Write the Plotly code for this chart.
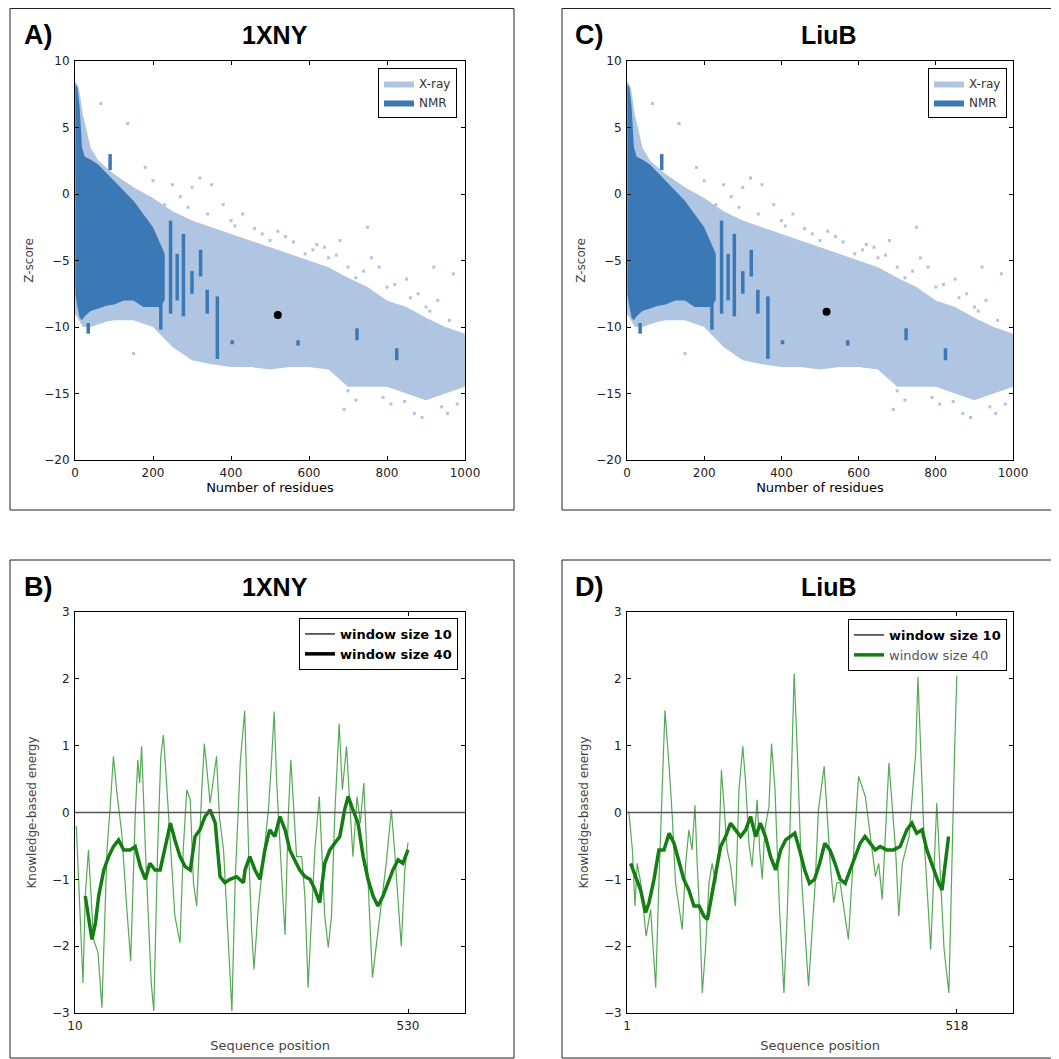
import plotly.graph_objects as go

# the page adds an 8px body margin, so the figure is 8px smaller and every
# pixel position below is measured on the 1059px reference, then shifted
OFF = 8
W = 1059 - OFF
H = 1059 - OFF

# ---- Z-score panels (A, C): envelopes of the X-ray / NMR clouds
xray_n = [0, 10, 20, 40, 60, 80, 100, 150, 200, 250, 300, 350, 400, 450, 500,
          550, 600, 650, 700, 750, 800, 850, 900, 950, 1000]
xray_hi = [8.5, 8.0, 6.0, 3.5, 2.5, 2.0, 1.5, 0.5, -0.3, -1.3, -2.0, -2.5, -3.0, -3.5, -4.0,
           -4.5, -5.0, -5.5, -6.3, -7.0, -8.0, -8.5, -9.3, -10.0, -10.5]
xray_lo = [-9.0, -9.5, -10.0, -10.0, -9.8, -9.6, -9.5, -9.5, -10.0, -11.5, -12.5, -12.8, -13.0, -13.0, -13.2,
           -13.0, -13.0, -13.2, -14.5, -14.5, -14.5, -15.0, -15.5, -15.0, -14.5]

nmr_n = [1, 6, 12, 18, 25, 40, 60, 80, 100, 125, 150, 175, 200, 215, 230]
nmr_hi = [8.3, 8.0, 6.5, 3.5, 2.8, 2.6, 2.2, 1.6, 1.0, 0.3, -0.5, -1.5, -2.5, -3.5, -4.5]
nmr_lo = [-7.5, -8.5, -9.3, -9.5, -9.2, -8.8, -8.6, -8.4, -8.3, -8.0, -8.0, -8.5, -8.5, -8.5, -8.0]

# isolated NMR columns
stripe_n = [34, 90, 220, 245, 262, 278, 300, 322, 339, 365, 403, 572, 723, 825]
stripe_lo = [-10.5, 1.8, -10.2, -9.0, -8.0, -9.2, -7.5, -6.2, -9.0, -12.4, -11.3, -11.4, -11.0, -12.5]
stripe_hi = [-9.7, 3.0, -5.0, -2.0, -4.5, -3.0, -5.8, -4.2, -7.2, -7.7, -11.0, -11.0, -10.1, -11.6]

# sparse X-ray points outside the dense cloud
out_n = [135, 66, 180, 250, 270, 300, 320, 350, 340, 380, 400, 430, 460, 500, 520, 560, 590,
         620, 650, 680, 700, 720, 750, 760, 780, 800, 850, 880, 900, 920, 930, 970, 150, 380,
         690, 720, 790, 870, 940, 980, 985, 200, 230, 290, 410, 480, 540, 610, 640, 670, 740,
         820, 860, 910, 960, 700, 810, 845, 890, 955]
out_z = [5.3, 6.8, 2.0, 0.7, -0.2, 0.5, 1.2, 0.7, -1.5, -0.8, -2.0, -1.5, -2.6, -3.5, -2.8, -3.6, -4.5,
         -3.8, -4.8, -3.5, -5.5, -6.3, -2.5, -4.8, -5.5, -7.0, -6.4, -7.5, -8.5, -5.5, -8.0, -6.0, -12.0, -11.5,
         -16.2, -15.5, -15.3, -16.5, -16.0, -15.8, -13.0, 1.0, -0.8, -1.0, -2.4, -3.0, -3.2, -4.2, -4.0,
         -4.6, -5.8, -6.8, -7.8, -8.8, -9.5, -14.8, -15.8, -15.6, -16.8, -16.5]

target_a = (520, -9.1)   # 1XNY
target_c = (517, -8.85)  # LiuB

# ---- energy profiles (B: 1XNY, D: LiuB)
b10_x = [12, 18, 22.5, 26, 31, 39, 46, 52, 60, 65, 70, 75.5, 83, 91, 97, 104, 108, 111, 114, 120, 125,
         129, 133, 139, 144, 148, 153, 159, 166, 174, 179, 184.5, 190, 195, 200, 208, 212, 217, 221,
         231, 235.5, 242, 249.5, 255, 260, 268, 275, 281, 286, 289.5, 296, 304, 312, 317, 321, 325,
         330, 335, 338, 343, 347, 351, 356, 364, 369, 374, 379.5, 384.5, 391.5, 395, 400, 405.5,
         410.5, 415.5, 422.5, 427.5, 434, 439, 444, 450.5, 455.5, 461, 465, 470, 474.5, 480.5, 486,
         496, 504, 509, 514.5, 519.5, 525, 530]
b10_y = [-0.2, -1.55, -2.55, -1.25, -0.56, -1.9, -2.1, -2.92, -0.56, 0.09, 0.84, 0.29, -0.31, -1.45,
         -2.22, -0.06, 0.79, 0.44, 0.99, -0.56, -1.75, -2.55, -2.97, -0.56, 0.84, 1.16, 0.44, -0.46,
         -1.55, -1.95, -0.56, 0.34, 0.19, -1.05, -1.4, 0.34, 1.03, 0.54, 0.14, 0.84, -0.06, -0.56,
         -2.05, -2.97, -1.05, 0.74, 1.52, -0.56, -1.8, -2.35, -1.45, -0.66, 0.04, 0.79, 1.51, 0.44,
         -0.56, -1.35, -1.83, -0.06, 0.79, 0.19, -0.66, -0.66, -1.25, -2.62, -1.45, -0.56, 0.24, -0.56,
         -1.55, -2.02, -1.55, -0.06, 1.33, 0.34, 0.99, 0.14, -0.66, 0.24, -0.16, 0.44, -0.56, -1.55,
         -2.47, -1.95, -1.55, -0.76, 0.04, -0.56, -1.35, -2.0, -0.86, -0.45]
b40_x = [26, 31, 36.5, 42, 47, 55, 62.5, 70, 78, 86, 96, 104, 112, 120, 127, 135, 143, 151, 159, 166,
         174, 182, 190, 197.5, 205, 213, 221, 229, 236.5, 244, 252, 262.5, 273, 275.5, 283, 291, 299,
         306.5, 314, 322, 330, 338, 345.5, 353, 361, 369, 377, 384.5, 392, 400, 408, 415.5, 423.5,
         431, 436.5, 444, 452, 460, 467.5, 475.5, 483, 491, 499, 506.5, 514.5, 522, 530]
b40_y = [-1.25, -1.55, -1.9, -1.65, -1.25, -0.86, -0.66, -0.51, -0.41, -0.56, -0.56, -0.51, -0.81, -1.0,
         -0.76, -0.86, -0.86, -0.51, -0.16, -0.41, -0.66, -0.81, -0.86, -0.36, -0.26, -0.06, 0.04, -0.16,
         -0.96, -1.05, -1.0, -0.96, -1.05, -0.86, -0.66, -0.86, -1.0, -0.56, -0.26, -0.36, -0.06, -0.26,
         -0.56, -0.71, -0.86, -0.96, -1.0, -1.15, -1.35, -0.76, -0.56, -0.46, -0.36, 0.04, 0.24, 0.04,
         -0.16, -0.66, -1.0, -1.25, -1.4, -1.25, -1.05, -0.86, -0.71, -0.76, -0.56]

d10_x = [4, 9.5, 13.5, 17, 22.5, 27.5, 31, 38, 46, 51, 56.5, 60.5, 67, 72, 77, 82.5, 87.5, 93, 98, 103,
         107.5, 111, 115, 119, 124, 129.5, 134.5, 140, 145, 149, 153, 158, 163.5, 171, 176.5, 182.5,
         187, 192, 197, 201.5, 205, 209, 213, 217, 223.5, 227.5, 233, 236.5, 240, 244, 247, 252, 257,
         263, 268, 275, 285.5, 296, 301, 310, 319.5, 325, 330, 335, 348, 359, 364, 374.5, 385, 390.5,
         395.5, 401, 411.5, 422, 427, 432.5, 443, 453.5, 457, 466.5, 477, 486.5, 498, 505.5, 514.5, 518]
d10_y = [0.0, -0.56, -1.4, -0.76, -1.05, -1.55, -1.85, -1.45, -2.62, -1.05, 0.44, 1.53, 0.69, -0.06,
         -1.05, -1.45, -1.75, -0.76, -0.26, -0.56, 0.11, -0.76, -1.55, -2.7, -2.05, -1.05, -0.76, -1.05,
         -0.56, 0.64, 0.04, -0.56, -0.81, -1.4, 0.34, 0.99, 0.44, -0.46, -0.81, -0.26, 0.19, -0.56, -1.0,
         -0.26, 0.09, 1.03, 0.34, -0.56, -1.45, -2.15, -2.7, -1.55, -0.06, 2.08, 0.9, -1.05, -2.6, -1.05,
         0.04, 0.69, -0.76, -1.35, -1.05, -1.05, -1.9, -0.16, 0.54, 0.24, -0.56, -0.96, -0.76, -1.3, 0.74,
         -0.56, -1.55, -0.76, -0.36, 0.89, 2.03, -0.36, -2.05, 0.14, -2.05, -2.7, 0.94, 2.05]
d40_x = [6.7, 14.6, 22.4, 30, 35.5, 43.3, 51, 59, 67, 74.6, 82.5, 90, 98, 106, 114, 121.6, 127, 132,
         140, 147.7, 155.6, 163.4, 171, 179, 187, 194.7, 202.6, 210, 218, 226, 234, 242, 249.6, 257,
         264, 271.5, 279.5, 287, 295, 303, 311, 319, 327, 335, 343, 350.7, 358.6, 366.5, 374, 382,
         390, 397.8, 408, 418.8, 429, 439.6, 447.5, 455, 463.5, 471, 481.6, 489.6, 494.8, 500, 505]
d40_y = [-0.76, -0.96, -1.16, -1.5, -1.35, -1.0, -0.56, -0.56, -0.31, -0.46, -0.76, -1.0, -1.16, -1.4,
         -1.4, -1.55, -1.6, -1.35, -0.96, -0.51, -0.36, -0.16, -0.26, -0.36, -0.26, -0.06, -0.36, -0.16,
         -0.36, -0.66, -0.86, -0.56, -0.41, -0.36, -0.31, -0.56, -0.86, -1.06, -1.0, -0.76, -0.46, -0.56,
         -0.76, -1.0, -1.06, -0.86, -0.66, -0.46, -0.36, -0.46, -0.56, -0.51, -0.56, -0.56, -0.51, -0.26,
         -0.16, -0.31, -0.26, -0.56, -0.86, -1.06, -1.16, -0.76, -0.36]

LIGHT = "rgb(176,197,226)"
DARK = "rgb(58,121,182)"
THIN = "rgba(30,140,30,0.75)"
THICK = "rgb(20,125,20)"


def px(v):
    return (v - OFF) / W


def py(v):
    return 1 - (v - OFF) / H


fig = go.Figure()


def zscore_panel(xa, ya, leg, target):
    fig.add_trace(go.Scatter(x=xray_n + xray_n[::-1], y=xray_hi + xray_lo[::-1], fill="toself",
                             fillcolor=LIGHT, line=dict(width=0), mode="lines", name="X-ray",
                             xaxis=xa, yaxis=ya, legend=leg, showlegend=True))
    fig.add_trace(go.Scatter(x=out_n, y=out_z, mode="markers",
                             marker=dict(symbol="square", size=3, color=LIGHT),
                             xaxis=xa, yaxis=ya, showlegend=False))
    fig.add_trace(go.Scatter(x=nmr_n + nmr_n[::-1], y=nmr_hi + nmr_lo[::-1], fill="toself",
                             fillcolor=DARK, line=dict(width=0), mode="lines", name="NMR",
                             xaxis=xa, yaxis=ya, legend=leg, showlegend=True))
    sx, sy = [], []
    for n, lo, hi in zip(stripe_n, stripe_lo, stripe_hi):
        sx += [n, n, None]
        sy += [lo, hi, None]
    fig.add_trace(go.Scatter(x=sx, y=sy, mode="lines", line=dict(color=DARK, width=3.5),
                             xaxis=xa, yaxis=ya, showlegend=False))
    fig.add_trace(go.Scatter(x=[target[0]], y=[target[1]], mode="markers",
                             marker=dict(color="black", size=8),
                             xaxis=xa, yaxis=ya, showlegend=False))


def energy_panel(xa, ya, leg, x10, y10, x40, y40, leg_items):
    fig.add_trace(go.Scatter(x=x10, y=y10, mode="lines", line=dict(color=THIN, width=1.2),
                             xaxis=xa, yaxis=ya, showlegend=False))
    fig.add_trace(go.Scatter(x=x40, y=y40, mode="lines", line=dict(color=THICK, width=3.5),
                             xaxis=xa, yaxis=ya, showlegend=False))
    # legend entries
    fig.add_trace(go.Scatter(x=[None], y=[None], mode="lines", name=leg_items[0][0],
                             line=dict(color=leg_items[0][1], width=1.2),
                             xaxis=xa, yaxis=ya, legend=leg))
    fig.add_trace(go.Scatter(x=[None], y=[None], mode="lines", name=leg_items[1][0],
                             line=dict(color=leg_items[1][1], width=3.5),
                             xaxis=xa, yaxis=ya, legend=leg))


zscore_panel("x", "y", "legend", target_a)
zscore_panel("x2", "y2", "legend2", target_c)
energy_panel("x3", "y3", "legend3", b10_x, b10_y, b40_x, b40_y,
             [("<b>window size 10</b>", "black"), ("<b>window size 40</b>", "black")])
energy_panel("x4", "y4", "legend4", d10_x, d10_y, d40_x, d40_y,
             [("<b>window size 10</b>", "black"),
              ("<span style='color:#555'>window size 40</span>", THICK)])

tickfont = dict(family="DejaVu Sans", size=12, color="#222")
base = dict(showline=True, linecolor="black", linewidth=1, mirror="ticks", ticks="inside",
            ticklen=4, tickcolor="black", showgrid=False, zeroline=False, tickfont=tickfont,
            ticklabelstandoff=2, automargin=False)

top_y = [py(460), py(61)]
bot_y = [py(1013), py(612)]
left_x = [px(75), px(465)]
right_x = [px(627), px(1013)]

zx = dict(base, range=[0, 1000], dtick=200,
          title=dict(text="Number of residues", font=dict(family="DejaVu Sans", size=13, color="black"),
                     standoff=2))
zy = dict(base, range=[-20, 10], dtick=5,
          title=dict(text="Z-score", font=dict(family="DejaVu Sans", size=12, color="#444"), standoff=8))
ey = dict(base, range=[-3, 3], dtick=1,
          title=dict(text="Knowledge-based energy", font=dict(family="DejaVu Sans", size=12, color="#444"),
                     standoff=12))
sx_title = dict(text="Sequence position", font=dict(family="DejaVu Sans", size=13, color="#444"), standoff=8)

fig.update_layout(
    width=W, height=H, margin=dict(l=0, r=0, t=0, b=0, autoexpand=False),
    paper_bgcolor="white", plot_bgcolor="white",
    xaxis=dict(zx, domain=left_x, anchor="y"),
    yaxis=dict(zy, domain=top_y, anchor="x"),
    xaxis2=dict(zx, domain=right_x, anchor="y2"),
    yaxis2=dict(zy, domain=top_y, anchor="x2"),
    xaxis3=dict(base, domain=left_x, anchor="y3", range=[10, 619], tickvals=[10, 530], title=sx_title),
    yaxis3=dict(ey, domain=bot_y, anchor="x3"),
    xaxis4=dict(base, domain=right_x, anchor="y4", range=[1, 606], tickvals=[1, 518], title=sx_title),
    yaxis4=dict(ey, domain=bot_y, anchor="x4"),
)

leg_base = dict(bgcolor="white", bordercolor="black", borderwidth=1, xanchor="right", yanchor="top",
                tracegroupgap=0, itemwidth=30)
fig.update_layout(
    legend=dict(leg_base, x=px(457), y=py(68), font=dict(family="DejaVu Sans", size=12, color="#333")),
    legend2=dict(leg_base, x=px(1007), y=py(68), font=dict(family="DejaVu Sans", size=12, color="#333")),
    legend3=dict(leg_base, x=px(458), y=py(618), font=dict(family="DejaVu Sans", size=13, color="black")),
    legend4=dict(leg_base, x=px(1007), y=py(619), font=dict(family="DejaVu Sans", size=13, color="black")),
)

# zero lines in the energy panels
for xa, ya in [("x3", "y3"), ("x4", "y4")]:
    fig.add_shape(type="line", xref=xa + " domain", yref=ya, x0=0, x1=1, y0=0, y1=0,
                  line=dict(color="#555", width=1.5))

# panel frames
for x0, y0, x1, y1 in [(10, 8.5, 514, 510), (562, 8.5, 1058, 510), (10, 560, 514, 1058), (562, 560, 1058, 1058)]:
    fig.add_shape(type="rect", xref="paper", yref="paper", x0=px(x0), x1=px(x1), y0=py(y0), y1=py(y1),
                  line=dict(color="#222", width=1))

letter_font = dict(family="Liberation Sans, Arial", size=27, color="black")
title_font = dict(family="Liberation Sans, Arial", size=25, color="black")
for letter, title, lx, tx, ty in [("A)", "1XNY", 22, 275, 35), ("C)", "LiuB", 573, 829, 35),
                                   ("B)", "1XNY", 22, 275, 587), ("D)", "LiuB", 573, 829, 587)]:
    fig.add_annotation(text="<b>%s</b>" % letter, xref="paper", yref="paper", x=px(lx), y=py(ty),
                       xanchor="left", yanchor="middle", showarrow=False, font=letter_font)
    fig.add_annotation(text="<b>%s</b>" % title, xref="paper", yref="paper", x=px(tx), y=py(ty),
                       xanchor="center", yanchor="middle", showarrow=False, font=title_font)

fig.write_html("out.html")
